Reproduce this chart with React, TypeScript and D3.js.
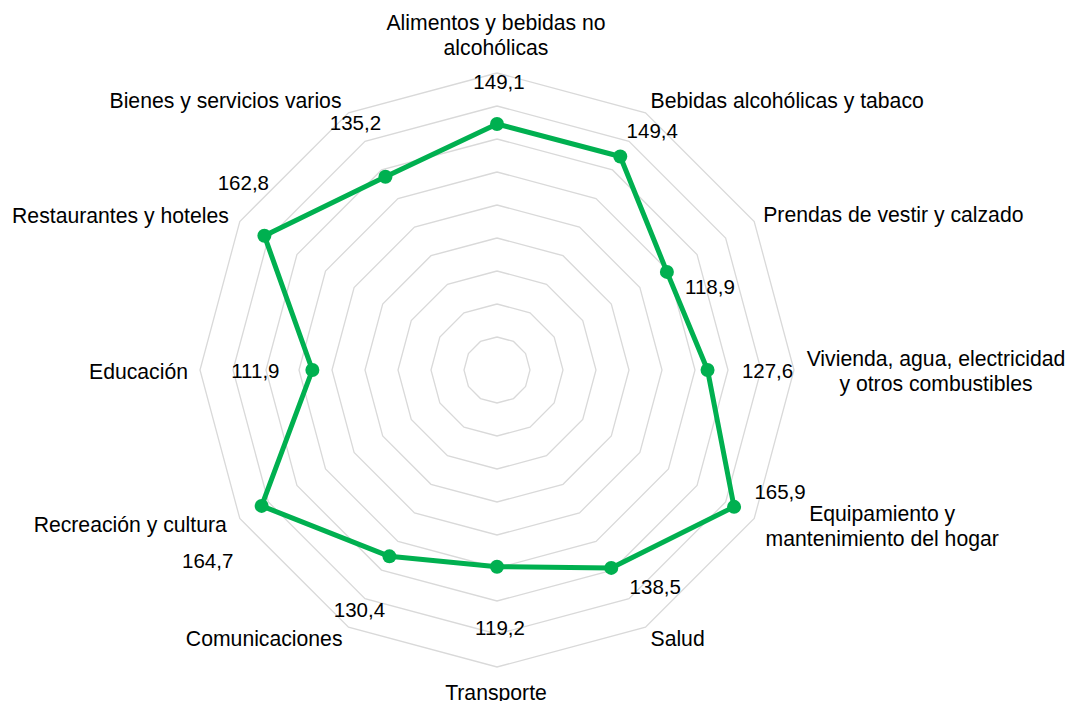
import React from 'react'
import * as d3 from 'd3'

// categories (clockwise from the top) and their index values
const categories = [
  'Alimentos y bebidas no\nalcohólicas',
  'Bebidas alcohólicas y tabaco',
  'Prendas de vestir y calzado',
  'Vivienda, agua, electricidad\ny otros combustibles',
  'Equipamiento y\nmantenimiento del hogar',
  'Salud',
  'Transporte',
  'Comunicaciones',
  'Recreación y cultura',
  'Educación',
  'Restaurantes y hoteles',
  'Bienes y servicios varios'
]
const values = [149.1, 149.4, 118.9, 127.6, 165.9, 138.5, 119.2, 130.4, 164.7, 111.9, 162.8, 135.2]
const gridTicks = [20, 40, 60, 80, 100, 120, 140, 160, 180]

// label layout: offset of the value label from its point, category label from the outer vertex
const valueLabelOffset: [number, number][] = [
  [2, -42], [32, -26], [43, 15], [60, 1], [46, -15], [44, 19],
  [3, 61], [-30, 53], [-54, 55], [-57, 1], [-21, -53], [-30, -54]
]
const catLabelOffset: [number, number, string][] = [
  [-1, -51, 'middle'], [5, -12, 'start'], [9, -7, 'start'], [142, -12, 'middle'],
  [128, -5, 'middle'], [5, 11, 'start'], [-1, 25, 'middle'], [-6, 11, 'end'],
  [-13, 6, 'end'], [-12, 1, 'end'], [-11, -6, 'end'], [-7, -12, 'end']
]

const width = 1069
const height = 701
const cx = 497
const cy = 370
const outerR = 297
const font = '"Liberation Sans", Arial, Helvetica, sans-serif'
const green = '#00B050'

export default function App() {
  const r = d3.scaleLinear().domain([0, 180]).range([0, outerR])
  const angle = d3.scaleLinear().domain([0, categories.length]).range([0, 2 * Math.PI])

  const pt = (i: number, rad: number): [number, number] => [
    cx + rad * Math.sin(angle(i)),
    cy - rad * Math.cos(angle(i))
  ]

  const ring = (t: number) =>
    d3.line()(categories.map((_, i) => pt(i, r(t))).concat([pt(0, r(t))]))

  const seriesPts = values.map((v, i) => pt(i, r(v)))
  const seriesPath = d3.line().curve(d3.curveLinearClosed)(seriesPts)

  return (
    <div style={{ position: 'absolute', left: 0, top: 0 }}>
      <svg width={width} height={height} style={{ display: 'block', background: '#fff' }} fontFamily={font}>
        {gridTicks.map(t => (
          <path key={t} d={ring(t) || ''} fill="none" stroke="#d9d9d9" strokeWidth={1.3} />
        ))}
        <path d={seriesPath || ''} fill="none" stroke={green} strokeWidth={5} strokeLinejoin="round" />
        {seriesPts.map((p, i) => (
          <circle key={i} cx={p[0]} cy={p[1]} r={7} fill={green} />
        ))}
        {seriesPts.map((p, i) => (
          <text key={'v' + i} x={p[0] + valueLabelOffset[i][0]} y={p[1] + valueLabelOffset[i][1]}
            dy="0.36em" textAnchor="middle" fontSize={20.5} fill="#000">
            {values[i].toFixed(1).replace('.', ',')}
          </text>
        ))}
        {categories.map((c, i) => {
          const [vx, vy] = pt(i, outerR)
          const [dx, dy, anchor] = catLabelOffset[i]
          const lines = c.split('\n')
          return (
            <text key={'c' + i} textAnchor={anchor as any} fontSize={21.2} fill="#000">
              {lines.map((l, j) => (
                <tspan key={j} x={vx + dx} y={vy + dy + j * 25} dy="0.36em">{l}</tspan>
              ))}
            </text>
          )
        })}
      </svg>
    </div>
  )
}
